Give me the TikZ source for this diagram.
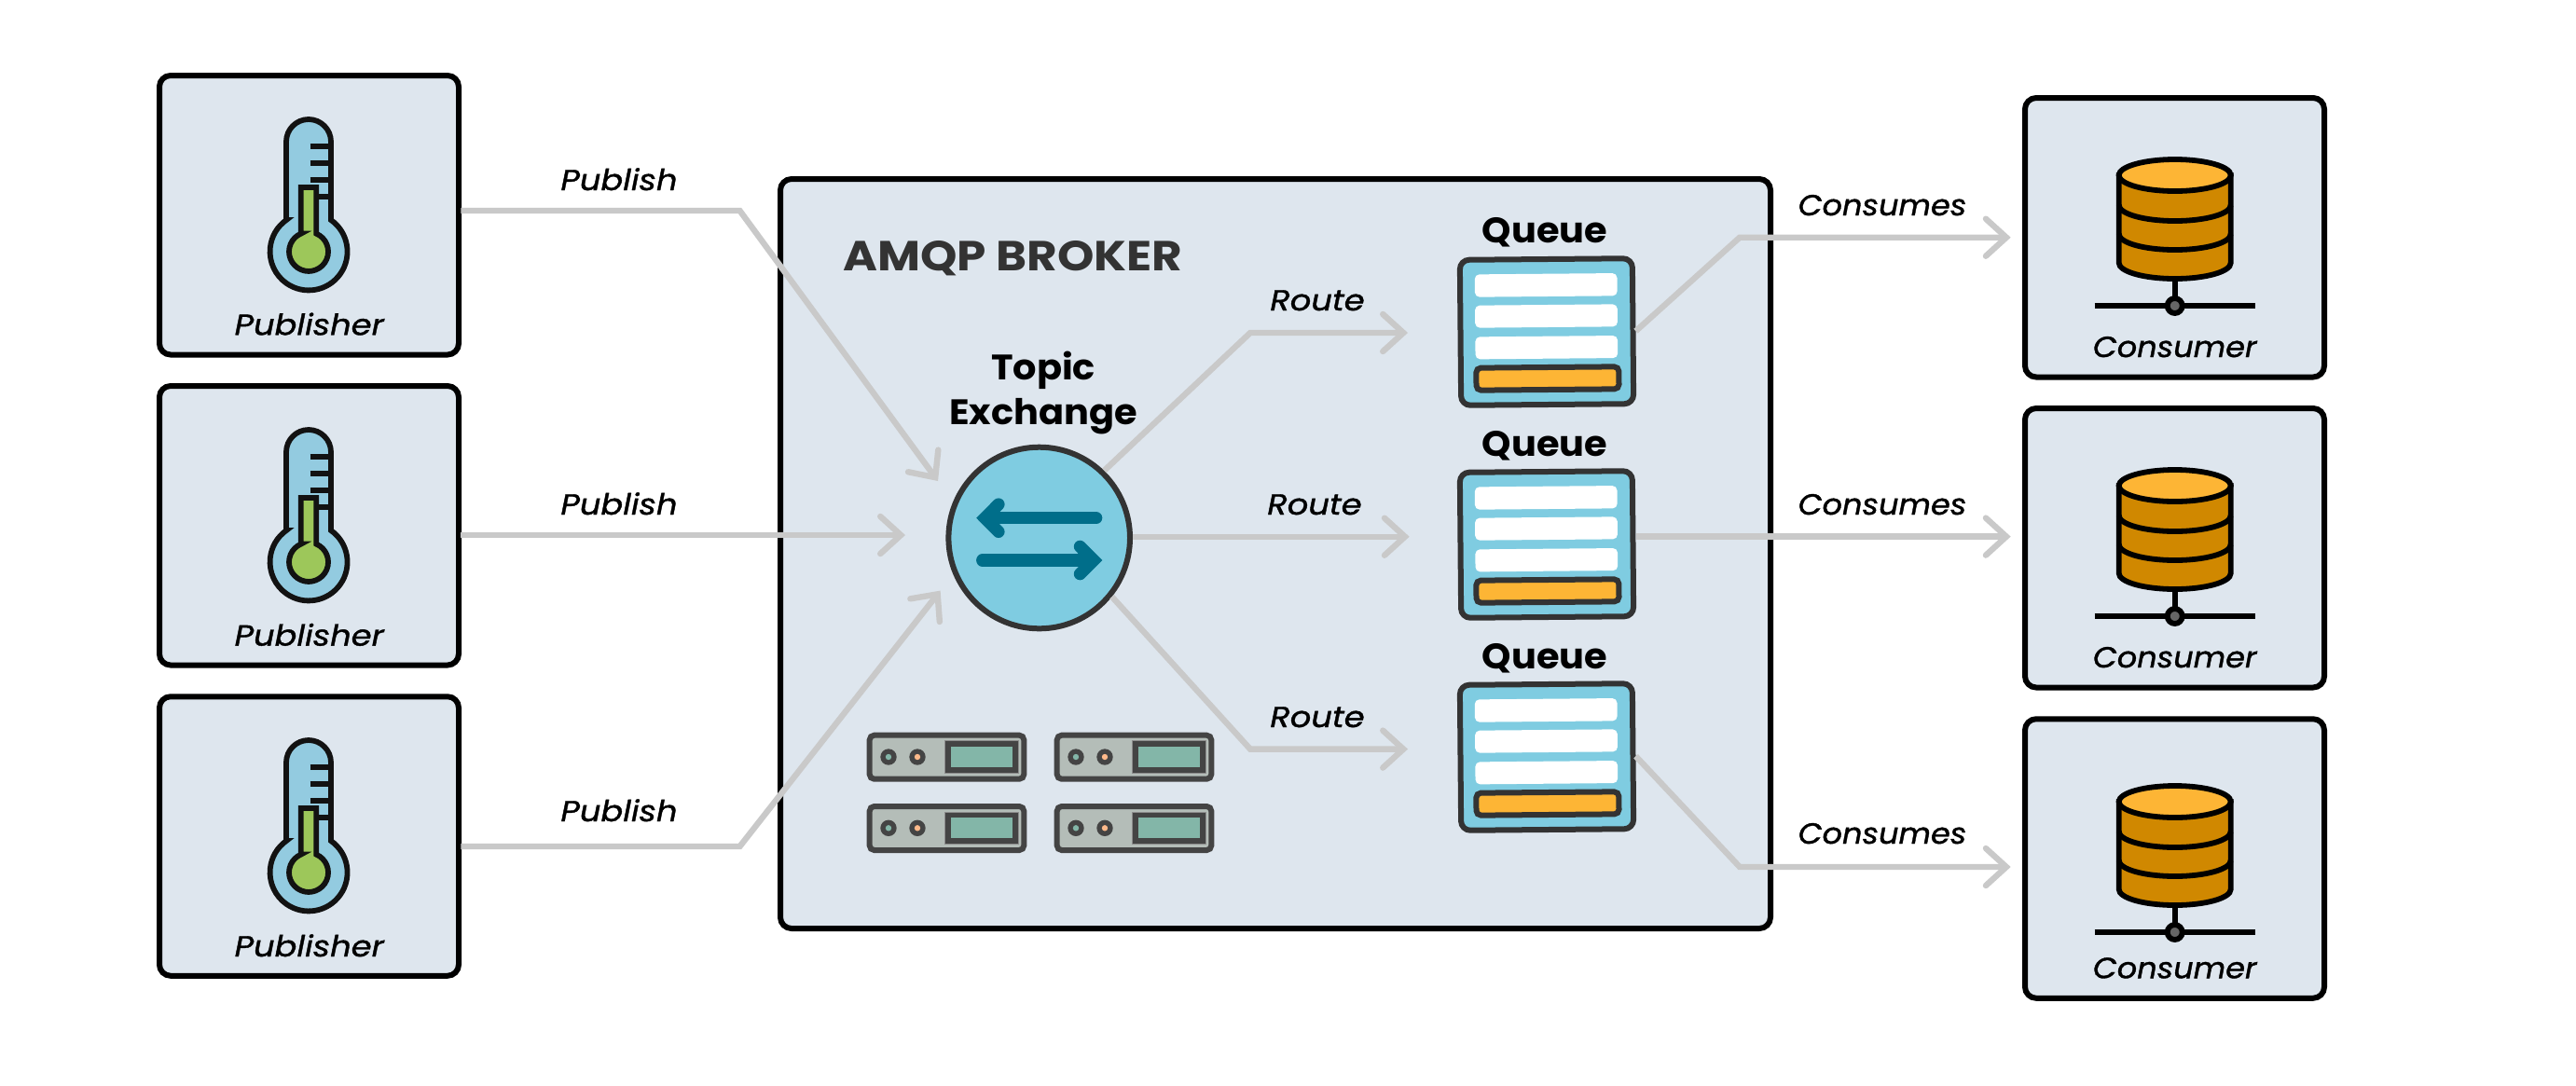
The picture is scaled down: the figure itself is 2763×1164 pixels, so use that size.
\documentclass[tikz,border=0pt]{standalone}
\usepackage{fontspec}
\setmainfont{Poppins}
\newfontfamily\lblA{Poppins}[FakeStretch=1.13,ItalicFeatures={FakeBold=1.2}]
\newfontfamily\lblB{Poppins}[FakeStretch=1.075,ItalicFeatures={FakeBold=1.2}]
\newfontfamily\headA{Poppins}[FakeStretch=1.05]
\newfontfamily\headB{Poppins}[FakeStretch=1.114]
\usetikzlibrary{arrows.meta}
\definecolor{panel}{HTML}{DEE6EE}
\definecolor{wire}{HTML}{C9C9C9}
\definecolor{ink}{HTML}{000000}
\definecolor{dark}{HTML}{333333}
\definecolor{thermoblue}{HTML}{93CBE0}
\definecolor{thermogreen}{HTML}{9DC75A}
\definecolor{skyfill}{HTML}{7FCCE1}
\definecolor{deepteal}{HTML}{006E8A}
\definecolor{amber}{HTML}{FDB535}
\definecolor{ochre}{HTML}{D08800}
\definecolor{srvgrey}{HTML}{B4BDB8}
\definecolor{srvink}{HTML}{444444}
\definecolor{srvteal}{HTML}{83B6A8}
\definecolor{srvorange}{HTML}{FFB98A}
\newcommand{\lblfont}{\lblA\itshape\fontsize{15.6}{18}\selectfont}
\newcommand{\lblfontb}{\lblB\itshape\fontsize{15.6}{18}\selectfont}
\newcommand{\headfont}{\headA\bfseries\fontsize{19}{24}\selectfont}
\tikzset{
  panelbox/.style={draw=ink,fill=panel,line width=3pt,rounded corners=6pt,outer sep=1.2pt,inner sep=0pt},
  qbox/.style={draw=dark,fill=skyfill,line width=3pt,rounded corners=5pt,outer sep=1.5pt,inner sep=0pt,minimum width=92.5pt,minimum height=78pt,rotate=0.5},
  exbox/.style={circle,draw=dark,fill=skyfill,line width=3pt,outer sep=1.5pt,inner sep=0pt,minimum size=97.3pt},
  wired/.style={draw=wire,line width=3.2pt,-{Straight Barb[length=11pt,width=20pt,line cap=round]}},
  plainlbl/.style={anchor=base,inner sep=0pt,font=\lblfont,text=black},
  plainlblb/.style={anchor=base,inner sep=0pt,font=\lblfontb,text=black},
  headlbl/.style={anchor=base,inner sep=0pt,font=\headfont,text=black},
  thermoline/.style={draw=black!93,line width=2.9pt},
  dbline/.style={draw=black,line width=2.9pt},
  srvline/.style={draw=srvink,line width=3pt},
}
\newcommand{\thermoicon}[2]{%
  \begin{scope}[shift={(#1,-#2)}]
    \path[thermoline,fill=thermoblue] (-24,34) -- (-24,118) arc[start angle=180,end angle=0,radius=24] -- (24,34) arc[start angle=54.8,end angle=-234.8,radius=41.5] -- cycle;
    \foreach \ty in {113.3,95,77.3}{\draw[thermoline] (1.7,\ty) -- (24,\ty);}
    \draw[thermoline] (8,59.3) -- (24,59.3);
    \path[thermoline,fill=thermogreen] (-8.2,19.4) -- (-8.2,69) -- (8.2,69) -- (8.2,19.4) arc[start angle=67.1,end angle=-247.1,radius=21] -- cycle;
  \end{scope}}
\newcommand{\dbicon}[2]{%
  \begin{scope}[shift={(#1,-#2)}]
    \draw[dbline] (0,-99) -- (0,-140);
    \draw[dbline] (-86,-140) -- (86,-140);
    \path[dbline,fill=ochre] (-60,0) -- (-60,-94) arc[start angle=180,end angle=360,x radius=60,y radius=17] -- (60,0) -- cycle;
    \draw[dbline] (-60,-32) arc[start angle=180,end angle=360,x radius=60,y radius=17];
    \draw[dbline] (-60,-63) arc[start angle=180,end angle=360,x radius=60,y radius=17];
    \path[dbline,fill=amber] (0,0) ellipse[x radius=60,y radius=17];
    \path[dbline,fill=black!60] (0,-140) circle[radius=8];
  \end{scope}}
\newcommand{\srvicon}[2]{%
  \begin{scope}[shift={(#1,-#2)}]
    \path[srvline,fill=srvgrey,rounded corners=2.5pt] (0,0) rectangle (165.6,-47);
    \path[srvline,fill=srvteal] (84.3,-9.3) rectangle (156.3,-37.3);
    \draw[black!45,line width=.5pt] (81,-6) rectangle (159.6,-40.6);
    \path[fill=srvink] (20.3,-23.3) circle[radius=8.7] (51.3,-23.3) circle[radius=8.7];
    \path[fill=srvteal] (20.3,-23.3) circle[radius=3.2];
    \path[fill=srvorange] (51.3,-23.3) circle[radius=3.2];
  \end{scope}}
\newcommand{\qicon}[2]{%
  \begin{scope}[shift={(#1,-#2)},rotate=0.5]
    \path[fill=white,rounded corners=2.5pt] (-76.7,62.3) rectangle (76,38);
    \path[fill=white,rounded corners=2.5pt] (-76.7,29) rectangle (76,5);
    \path[fill=white,rounded corners=2.5pt] (-76.7,-4.7) rectangle (76,-28.7);
    \path[draw=dark,fill=amber,line width=3pt,rounded corners=2.5pt] (-76,-38) rectangle (77,-62);
  \end{scope}}
\begin{document}
\begin{tikzpicture}[x=.5pt,y=.5pt]
\useasboundingbox (0,0) rectangle (2763,-1164);
% boxes
\node[panelbox,minimum width=160.5pt,minimum height=149.75pt] (pub1) at (331.5,-230.75) {};
\node[panelbox,minimum width=160.5pt,minimum height=149.75pt] (pub2) at (331.5,-563.75) {};
\node[panelbox,minimum width=160.5pt,minimum height=149.75pt] (pub3) at (331.5,-897) {};
\node[panelbox,minimum width=160.5pt,minimum height=149.75pt] (con1) at (2332.5,-254.75) {};
\node[panelbox,minimum width=160.5pt,minimum height=149.75pt] (con2) at (2332.5,-587.75) {};
\node[panelbox,minimum width=160.5pt,minimum height=149.75pt] (con3) at (2332.5,-921) {};
\node[panelbox,minimum width=531pt,minimum height=402pt] (broker) at (1368,-594) {};
% icons
\thermoicon{331}{270}
\thermoicon{331}{603}
\thermoicon{331}{936}
\dbicon{2332.7}{188}
\dbicon{2332.7}{521}
\dbicon{2332.7}{860}
\srvicon{932.7}{788.7}
\srvicon{1133.7}{788.7}
\srvicon{932.7}{865}
\srvicon{1133.7}{865}
% exchange
\node[exbox] (ex) at (1114.7,-577) {};
\draw[deepteal,line width=6.6pt,line cap=round,line join=miter] (1071,-541) -- (1056.5,-555.7) -- (1071,-570.4);
\draw[deepteal,line width=6.6pt,line cap=round] (1058,-555.7) -- (1175.7,-555.7);
\draw[deepteal,line width=6.6pt,line cap=round,line join=miter] (1158.4,-586.3) -- (1173,-601) -- (1158.4,-615.7);
\draw[deepteal,line width=6.6pt,line cap=round] (1053.7,-601) -- (1171,-601);
% queues
\node[qbox] (q1) at (1659,-356) {};
\node[qbox] (q2) at (1659,-584) {};
\node[qbox] (q3) at (1659,-812) {};
\qicon{1659}{356}
\qicon{1659}{584}
\qicon{1659}{812}
% texts
\node[plainlbl] (tp1) at (331.7,-359.3) {Publisher};
\node[plainlbl] (tp2) at (331.7,-692.6) {Publisher};
\node[plainlbl] (tp3) at (331.7,-1026) {Publisher};
\node[plainlblb] (tc1) at (2332.7,-383) {Consumer};
\node[plainlblb] (tc2) at (2332.7,-716) {Consumer};
\node[plainlblb] (tc3) at (2332.7,-1049.3) {Consumer};
\node[plainlbl] (lp1) at (664,-204) {Publish};
\node[plainlbl] (lp2) at (664,-552) {Publish};
\node[plainlbl] (lp3) at (664,-881) {Publish};
\node[plainlbl] (lr1) at (1413,-333) {Route};
\node[plainlbl] (lr2) at (1410,-552) {Route};
\node[plainlbl] (lr3) at (1413,-780) {Route};
\node[plainlblb] (lc1) at (2019,-231) {Consumes};
\node[plainlblb] (lc2) at (2019,-552) {Consumes};
\node[plainlblb] (lc3) at (2019,-905) {Consumes};
\node[headlbl] (hq1) at (1657,-260.7) {Queue};
\node[headlbl] (hq2) at (1657,-489) {Queue};
\node[headlbl] (hq3) at (1657,-717.5) {Queue};
\node[headlbl] (ht1) at (1119,-407) {Topic};
\node[headlbl] (ht2) at (1119,-455) {Exchange};
\node[anchor=base west,inner sep=0pt,font=\headB\bfseries\fontsize{22.5}{26}\selectfont,text=dark] (title) at (904,-290.7) {AMQP BROKER};
% waypoints
\coordinate (a1) at (793.5,-226);
\coordinate (e1) at (1006,-516);
\coordinate (a2) at (971,-574);
\coordinate (a3) at (793.5,-908);
\coordinate (e3) at (1008.6,-633.6);
\coordinate (r1) at (1341,-357);
\coordinate (s1) at (1510,-357);
\coordinate (s2) at (1511.7,-575.7);
\coordinate (r3) at (1341,-803.6);
\coordinate (s3) at (1510,-803.6);
\coordinate (b1) at (1866,-254.7);
\coordinate (d1) at (2156.7,-254.7);
\coordinate (d2) at (2156.7,-575.6);
\coordinate (b3) at (1866,-930);
\coordinate (d3) at (2156.7,-930);
% connectors
\draw[wired] (pub1.east |- a1) -- (a1) -- (e1);
\draw[wired] (pub2.east |- a2) -- (a2);
\draw[wired] (pub3.east |- a3) -- (a3) -- (e3);
\draw[wired] (ex.46) -- (r1) -- (s1);
\draw[wired] (ex.east |- s2) -- (s2);
\draw[wired] (ex.-39) -- (r3) -- (s3);
\draw[wired] (q1.east) -- (b1) -- (d1);
\draw[wired] (q2.east |- d2) -- (d2);
\draw[wired] (q3.east) -- (b3) -- (d3);
\end{tikzpicture}
\end{document}
